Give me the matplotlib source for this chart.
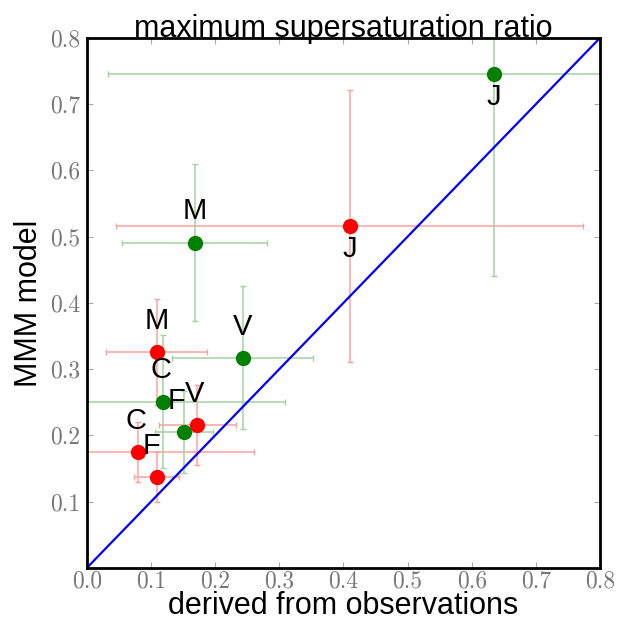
# MMM model vs observation-derived maximum supersaturation ratio
import matplotlib
matplotlib.use('Agg')
import matplotlib.pyplot as plt

# red set
red_labels = ['J', 'M', 'V', 'C', 'F']
red_x = [0.410, 0.109, 0.172, 0.080, 0.109]
red_y = [0.516, 0.326, 0.216, 0.175, 0.137]
red_xerr = [0.364, 0.079, 0.060, 0.180, 0.035]
red_yerr = [0.205, 0.080, 0.060, 0.045, 0.038]

# green set
green_labels = ['J', 'M', 'V', 'C', 'F']
green_x = [0.635, 0.168, 0.243, 0.119, 0.151]
green_y = [0.746, 0.491, 0.317, 0.251, 0.205]
green_xerr = [0.602, 0.113, 0.110, 0.190, 0.045]
green_yerr = [0.306, 0.118, 0.108, 0.100, 0.062]

# label placement: above (+1) or below (-1) the point, small x nudges
red_side = [-1, 1, 1, 1, 1]
green_side = [-1, 1, 1, 1, 1]
red_dx = [0.0, 0.0, -0.004, -0.004, -0.008]
green_dx = [0.0, 0.0, 0.0, -0.004, -0.011]

fig = plt.figure(figsize=(6.25, 6.22), dpi=100)
ax = fig.add_axes([0.139, 0.087, 0.821, 0.852])

ax.plot([0, 0.8], [0, 0.8], color='blue', lw=1.6, zorder=2)

for xs, ys, xe, ye, c, lc in [(red_x, red_y, red_xerr, red_yerr, 'red', '#ffa0a0'),
                               (green_x, green_y, green_xerr, green_yerr, 'green', '#a3d1a3')]:
    ax.errorbar(xs, ys, xerr=xe, yerr=ye, fmt='none', ecolor=lc, elinewidth=1.1,
                capsize=2.5, capthick=1, zorder=1)
    ax.plot(xs, ys, 'o', color=c, markersize=11, markeredgewidth=0, zorder=3)

lab_font = dict(family=['Liberation Sans', 'DejaVu Sans'], fontsize=21, ha='center', va='center')
for i, t in enumerate(red_labels):
    off = 0.047 if red_side[i] > 0 else -0.035
    ax.text(red_x[i] + red_dx[i], red_y[i] + off, t, **lab_font)
for i, t in enumerate(green_labels):
    off = 0.047 if green_side[i] > 0 else -0.035
    ax.text(green_x[i] + green_dx[i], green_y[i] + off, t, **lab_font)

ax.set_xlim(0, 0.8)
ax.set_ylim(0, 0.8)
ticks = [0.0, 0.1, 0.2, 0.3, 0.4, 0.5, 0.6, 0.7, 0.8]
tick_labels = ['0.0', '0.1', '0.2', '0.3', '0.4', '0.5', '0.6', '0.7', '0.8']
ax.set_xticks(ticks)
ax.set_xticklabels(tick_labels, family='cmr10', fontsize=17, color='#777777')
ax.set_yticks(ticks[1:])
ax.set_yticklabels(tick_labels[1:], family='cmr10', fontsize=17, color='#777777')
ax.tick_params(direction='in', length=4, width=0.8, color='#aaaaaa', top=True, right=True)
ax.tick_params(axis='x', pad=2)
ax.tick_params(axis='y', pad=5)
for s in ax.spines.values():
    s.set_linewidth(2)

sans = ['Liberation Sans', 'DejaVu Sans']
ax.set_title('maximum supersaturation ratio', family=sans, fontsize=22, pad=1)
ax.set_xlabel('derived from observations', family=sans, fontsize=22, labelpad=-1)
ax.set_ylabel('MMM model', family=sans, fontsize=22, labelpad=4)

fig.savefig('out.png', dpi=100)
